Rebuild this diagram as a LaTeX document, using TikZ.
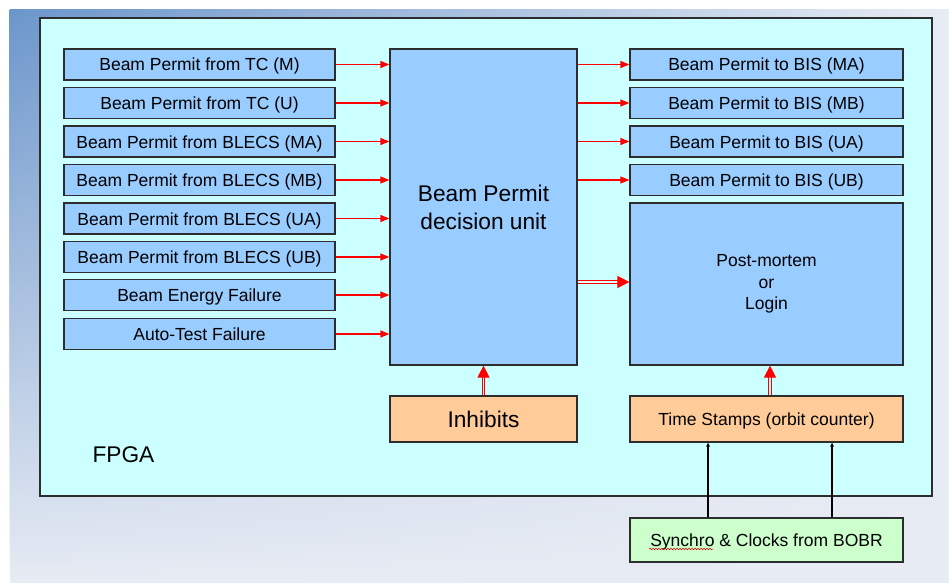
\documentclass[tikz,border=0pt]{standalone}
\usepackage{fontspec}
\setmainfont{Liberation Sans}
\usetikzlibrary{positioning, arrows.meta, calc, fadings, decorations.pathmorphing}
\definecolor{framecyan}{RGB}{204, 255, 255}
\definecolor{permitblue}{RGB}{153, 204, 255}
\definecolor{inhibitorange}{RGB}{255, 204, 153}
\definecolor{syncgreen}{RGB}{204, 255, 204}
\definecolor{boxline}{RGB}{45, 45, 45}
\definecolor{bgblue}{RGB}{108, 150, 204}
\definecolor{bglight}{RGB}{232, 236, 244}
\tikzset{
  basebox/.style={
    draw=boxline, line width=1.2pt, fill=permitblue,
    minimum width=271pt,
    minimum height=31pt,
    inner sep=0pt,
    font=\fontsize{17.5}{21}\selectfont,
    align=center
  },
  box/.style={
    basebox,
    text height=13pt, text depth=-2pt
  },
  widebox/.style={
    box,
    minimum width=273pt
  },
  bigbox/.style={
    basebox,
    minimum width=187pt,
    font=\fontsize{22.7}{28}\selectfont
  },
  signal/.style={-{Triangle[length=9pt, width=7pt]}, line width=1.3pt, red},
  dblsignal/.style={-{Triangle[length=12pt, width=12pt]}, line width=1.1pt, red, double=framecyan!60!white, double distance=1.6pt},
  clk/.style={-{Triangle[length=4pt, width=3.5pt]}, line width=1.2pt, black}
}

\begin{document}
\begin{tikzpicture}[x=1pt, y=-1pt]
\useasboundingbox (0,0) rectangle (949,583);

% Slide background
\fill[bglight] (10,9) rectangle (949,583);
\shade[left color=bgblue, right color=bglight, path fading=south] (10,9) rectangle (949,583);

% FPGA frame
\node[draw=boxline, line width=1.2pt, fill=framecyan, minimum width=892pt, minimum height=478pt, inner sep=0pt] (fpga) at (486,257) {};
\node[anchor=base west, font=\fontsize{22.7}{28}\selectfont] (fpgalabel) at (89,462) {FPGA};

% Input boxes
\node[box] (tcm) at (199.5,64.5) {Beam Permit from TC (M)};
\node[box] (tcu) at (199.5,103) {Beam Permit from TC (U)};
\node[box] (blecsma) at (199.5,141.5) {Beam Permit from BLECS (MA)};
\node[box] (blecsmb) at (199.5,180) {Beam Permit from BLECS (MB)};
\node[box] (blecsua) at (199.5,218.5) {Beam Permit from BLECS (UA)};
\node[box] (blecsub) at (199.5,257) {Beam Permit from BLECS (UB)};
\node[box] (energy) at (199.5,295) {Beam Energy Failure};
\node[box] (autotest) at (199.5,334) {Auto-Test Failure};

% Decision unit
\node[bigbox, minimum height=316pt] (unit) at (483.5,207) {Beam Permit\\decision unit};
\node[bigbox, minimum height=46pt, fill=inhibitorange] (inhibits) at (483.5,419) {Inhibits};

% Output boxes
\node[widebox] (bisma) at (766.5,64.5) {Beam Permit to BIS (MA)};
\node[widebox] (bismb) at (766.5,103) {Beam Permit to BIS (MB)};
\node[widebox] (bisua) at (766.5,141.5) {Beam Permit to BIS (UA)};
\node[widebox] (bisub) at (766.5,180) {Beam Permit to BIS (UB)};
\node[basebox, minimum width=273pt, minimum height=162pt, font=\fontsize{17.5}{21.5}\selectfont] (postmortem) at (766.5,284) {Post-mortem\\or\\Login};
\node[widebox, minimum height=46pt, fill=inhibitorange] (timestamps) at (766.5,419) {Time Stamps (orbit counter)};
\node[widebox, minimum height=44pt, fill=syncgreen] (synchro) at (766.5,540) {Synchro \& Clocks from BOBR};

% Spell-check underline
\draw[red!85!black, line width=0.5pt, decorate, decoration={snake, amplitude=0.8pt, segment length=3pt}] (649,549) -- (713,549);

% Inputs -> decision unit
\draw[signal] (tcm.east) -- (tcm.east -| unit.west);
\draw[signal] (tcu.east) -- (tcu.east -| unit.west);
\draw[signal] (blecsma.east) -- (blecsma.east -| unit.west);
\draw[signal] (blecsmb.east) -- (blecsmb.east -| unit.west);
\draw[signal] (blecsua.east) -- (blecsua.east -| unit.west);
\draw[signal] (blecsub.east) -- (blecsub.east -| unit.west);
\draw[signal] (energy.east) -- (energy.east -| unit.west);
\draw[signal] (autotest.east) -- (autotest.east -| unit.west);

% Decision unit -> outputs
\draw[signal] (unit.east |- bisma.west) -- (bisma.west);
\draw[signal] (unit.east |- bismb.west) -- (bismb.west);
\draw[signal] (unit.east |- bisua.west) -- (bisua.west);
\draw[signal] (unit.east |- bisub.west) -- (bisub.west);
\draw[dblsignal] (unit.east |- {0,282}) -- (postmortem.west |- {0,282});

% Inhibits and time stamps
\draw[dblsignal] (inhibits.north) -- (unit.south);
\draw[dblsignal] (timestamps.north -| {770,0}) -- (postmortem.south -| {770,0});

% Clocks from BOBR
\draw[clk] (synchro.north -| {708,0}) -- (timestamps.south -| {708,0});
\draw[clk] (synchro.north -| {832,0}) -- (timestamps.south -| {832,0});

\end{tikzpicture}
\end{document}
